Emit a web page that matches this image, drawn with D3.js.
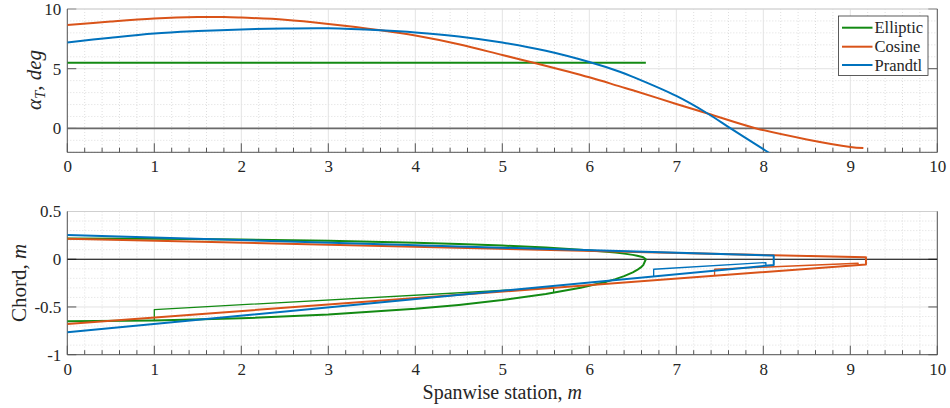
<!DOCTYPE html>
<html><head><meta charset="utf-8">
<script src="https://cdn.jsdelivr.net/npm/d3@7"></script>
<style>
html,body{margin:0;padding:0;background:#fff;}
svg{display:block;font-family:"Liberation Serif","Times New Roman",serif;}
</style></head>
<body>
<svg id="chart" width="950" height="408"></svg>
<script>
// ---------- data ----------
const spanTicks = [0,1,2,3,4,5,6,7,8,9,10];
const alphaTicks = [10,5,0];
const chordTicks = [0.5,0,-0.5,-1];
const seriesNames = ["Elliptic","Cosine","Prandtl"];
const seriesColors = ["#138a13","#D95319","#0072BD"];

// twist angle alpha_T (deg) vs spanwise station (m)
const ellipticX = [0, 6.65];
const ellipticA = [5.5, 5.5];
const cosineX = [0,0.5,1,1.5,1.8,2,2.5,3,3.6,4,4.5,5,5.36,6,6.35,6.5,7,7.36,7.92,8.5,9,9.15];
const cosineA = [8.65,8.95,9.2,9.33,9.33,9.28,9.1,8.75,8.22,7.78,7.05,6.15,5.5,4.28,3.52,3.2,2.05,1.25,0,-0.92,-1.55,-1.65];
const prandtlX = [0,0.5,1,1.5,2,2.5,3,3.6,4,4.5,5,5.5,6,6.35,6.5,7,7.36,7.62,8,8.1];
const prandtlA = [7.19,7.6,7.95,8.15,8.29,8.36,8.38,8.22,8.04,7.7,7.19,6.5,5.56,4.75,4.32,2.72,1.25,0.02,-1.74,-2.2];

// planform: leading edge / trailing edge chord positions (m)
const ellipticSpan = [0,1,2,3,4,4.5,5,5.5,5.9,6.2,6.3,6.4,6.5,6.55,6.6,6.62,6.65];
const ellipticLE   = [0.2165,0.214,0.2065,0.1932,0.173,0.1594,0.1427,0.1217,0.0999,0.0783,0.0693,0.0588,0.0457,0.0374,0.0265,0.0205,0];
const ellipticTE   = [-0.6495,-0.6421,-0.6194,-0.5797,-0.5189,-0.4782,-0.4282,-0.3651,-0.2996,-0.2349,-0.208,-0.1764,-0.1372,-0.1122,-0.0795,-0.0616,0];
const cosineSpan = [0, 9.18];
const cosineLE   = [0.215, 0.02];
const cosineTE   = [-0.678, -0.055];
const prandtlSpan = [0, 8.12];
const prandtlLE   = [0.254, 0.038];
const prandtlTE   = [-0.765, -0.06];
// control surfaces (thin outlines)
const ellipticAilX = [1, 1, 5.59, 5.59];
const ellipticAilY = [-0.642, -0.527, -0.297, -0.353];
const cosineAilX = [7.44, 7.44, 9.09, 9.09];
const cosineAilY = [-0.175, -0.105, -0.042, -0.068];
const prandtlAilX = [6.74, 6.74, 8.03, 8.03];
const prandtlAilY = [-0.18, -0.105, -0.035, -0.07];

// ---------- layout ----------
const svg = d3.select("#chart");
const L = 67.3, R = 937.3;
const x = d3.scaleLinear().domain([0,10]).range([L,R]);
const yTop = d3.scaleLinear().domain([-2,10]).range([152.3,9]);
const yBot = d3.scaleLinear().domain([-1,0.5]).range([354.7,211.5]);

const axisColor = "#262626";
function drawPanel(y, yMajor, yMinorStep, yLabels, id) {
  const g = svg.append("g");
  const [y0, y1] = y.domain();
  const top = y(y1), bot = y(y0);
  const clipId = "clip" + id;
  svg.append("clipPath").attr("id", clipId).append("rect")
    .attr("x", L).attr("y", top).attr("width", R-L).attr("height", bot-top);
  const xMinor = d3.range(0, 10.0001, 0.2).filter(v => Math.abs(v - Math.round(v)) > 1e-6);
  g.selectAll(".xmin").data(xMinor).join("line")
    .attr("x1", d => x(d)).attr("x2", d => x(d)).attr("y1", top).attr("y2", bot)
    .attr("stroke", "#d6d6d6").attr("stroke-width", 0.8).attr("stroke-dasharray", "1,2");
  const yMinor = d3.range(y0, y1 + 1e-9, yMinorStep).filter(v => !yMajor.some(m => Math.abs(m - v) < 1e-6));
  g.selectAll(".ymin").data(yMinor).join("line")
    .attr("x1", L).attr("x2", R).attr("y1", d => y(d)).attr("y2", d => y(d))
    .attr("stroke", "#d6d6d6").attr("stroke-width", 0.8).attr("stroke-dasharray", "1,2");
  g.selectAll(".xmaj").data(spanTicks).join("line")
    .attr("x1", d => x(d)).attr("x2", d => x(d)).attr("y1", top).attr("y2", bot)
    .attr("stroke", "#e3e3e3").attr("stroke-width", 1);
  g.selectAll(".ymaj").data(yMajor).join("line")
    .attr("x1", L).attr("x2", R).attr("y1", d => y(d)).attr("y2", d => y(d))
    .attr("stroke", "#e3e3e3").attr("stroke-width", 1);
  const xAx = d3.axisBottom(x).tickValues(spanTicks).tickSize(0).tickPadding(8).tickFormat(d3.format("d"));
  const gx = svg.append("g").attr("transform", `translate(0,${bot})`).call(xAx);
  gx.select(".domain").remove();
  gx.selectAll("text").attr("font-size", 17).attr("fill", axisColor).attr("font-family", "Liberation Serif");
  const yAx = d3.axisLeft(y).tickValues(yMajor).tickSize(0).tickPadding(6).tickFormat(d => yLabels[yMajor.indexOf(d)]);
  const gy = svg.append("g").attr("transform", `translate(${L},0)`).call(yAx);
  gy.select(".domain").remove();
  gy.selectAll("text").attr("font-size", 17).attr("fill", axisColor).attr("font-family", "Liberation Serif");
  const tk = svg.append("g").attr("stroke", "#555").attr("stroke-width", 1);
  tk.selectAll(".xt").data(spanTicks).join("line")
    .attr("x1", d => x(d)).attr("x2", d => x(d)).attr("y1", bot).attr("y2", bot - 9);
  tk.selectAll(".xmt").data(xMinor).join("line")
    .attr("x1", d => x(d)).attr("x2", d => x(d)).attr("y1", bot).attr("y2", bot - 4.5);
  tk.selectAll(".ytl").data(yMajor).join("line")
    .attr("x1", L).attr("x2", L + 9).attr("y1", d => y(d)).attr("y2", d => y(d));
  tk.selectAll(".ytr").data(yMajor).join("line")
    .attr("x1", R).attr("x2", R - 9).attr("y1", d => y(d)).attr("y2", d => y(d));
  svg.append("line").attr("x1", L).attr("x2", R).attr("y1", top).attr("y2", top).attr("stroke", "#cfcfcf").attr("stroke-width", 1);
  svg.append("line").attr("x1", L).attr("x2", L).attr("y1", top).attr("y2", bot).attr("stroke", "#555").attr("stroke-width", 1);
  svg.append("line").attr("x1", R).attr("x2", R).attr("y1", top).attr("y2", bot).attr("stroke", "#555").attr("stroke-width", 1);
  svg.append("line").attr("x1", L).attr("x2", R).attr("y1", bot).attr("y2", bot).attr("stroke", "#555").attr("stroke-width", 1);
  return clipId;
}

// ---------- top panel ----------
const clipTop = drawPanel(yTop, alphaTicks, 1, ["10","5","0"], "T");
const gTop = svg.append("g").attr("clip-path", `url(#${clipTop})`);
gTop.append("line").attr("x1", L).attr("x2", R).attr("y1", yTop(0)).attr("y2", yTop(0))
  .attr("stroke", "#6a6a6a").attr("stroke-width", 1.8);
const lineT = d3.line().x(d => x(d[0])).y(d => yTop(d[1])).curve(d3.curveCatmullRom.alpha(0.5));
const topSeries = [
  d3.zip(ellipticX, ellipticA),
  d3.zip(cosineX, cosineA),
  d3.zip(prandtlX, prandtlA)
];
topSeries.forEach((s, i) => {
  gTop.append("path").attr("d", lineT(s)).attr("fill", "none")
    .attr("stroke", seriesColors[i]).attr("stroke-width", 2).attr("stroke-linejoin", "round");
});

// ---------- bottom panel ----------
const clipBot = drawPanel(yBot, chordTicks, 0.1, ["0.5","0","-0.5","-1"], "B");
const gBot = svg.append("g").attr("clip-path", `url(#${clipBot})`);
gBot.append("line").attr("x1", L).attr("x2", R).attr("y1", yBot(0)).attr("y2", yBot(0))
  .attr("stroke", "#000").attr("stroke-width", 1.1);
const lineB = d3.line().x(d => x(d[0])).y(d => yBot(d[1]));
function outline(span, le, te) {
  const a = d3.zip(span, le);
  const b = d3.zip(span, te).reverse();
  return a.concat(b);
}
const planforms = [
  outline(ellipticSpan, ellipticLE, ellipticTE),
  outline(cosineSpan, cosineLE, cosineTE),
  outline(prandtlSpan, prandtlLE, prandtlTE)
];
const ailerons = [
  d3.zip(ellipticAilX, ellipticAilY),
  d3.zip(cosineAilX, cosineAilY),
  d3.zip(prandtlAilX, prandtlAilY)
];
[0,1,2].forEach(i => {
  gBot.append("path").attr("d", lineB(planforms[i])).attr("fill", "none")
    .attr("stroke", seriesColors[i]).attr("stroke-width", 2).attr("stroke-linejoin", "round");
  gBot.append("path").attr("d", lineB(ailerons[i])).attr("fill", "none")
    .attr("stroke", seriesColors[i]).attr("stroke-width", 1.3).attr("stroke-linejoin", "round");
});

// ---------- labels ----------
const yl1 = svg.append("text").attr("transform", "translate(41,80) rotate(-90)")
  .attr("text-anchor", "middle").attr("font-size", 21).attr("fill", axisColor);
yl1.append("tspan").attr("font-style", "italic").text("α");
yl1.append("tspan").attr("font-style", "italic").attr("font-size", 15).attr("dy", 4).text("T");
yl1.append("tspan").attr("dy", -4).text(", ");
yl1.append("tspan").attr("font-style", "italic").text("deg");

const yl2 = svg.append("text").attr("transform", "translate(26,283) rotate(-90)")
  .attr("text-anchor", "middle").attr("font-size", 21).attr("fill", axisColor);
yl2.append("tspan").text("Chord, ");
yl2.append("tspan").attr("font-style", "italic").text("m");

const xl = svg.append("text").attr("x", x(5)).attr("y", 399)
  .attr("text-anchor", "middle").attr("font-size", 20).attr("fill", axisColor);
xl.append("tspan").text("Spanwise station, ");
xl.append("tspan").attr("font-style", "italic").text("m");

// ---------- legend ----------
const lg = svg.append("g");
lg.append("rect").attr("x", 838.5).attr("y", 16).attr("width", 89.5).attr("height", 59.5)
  .attr("fill", "#fff").attr("stroke", "#333").attr("stroke-width", 0.8);
const rowY = [27.7, 46.7, 65];
seriesNames.forEach((n, i) => {
  lg.append("line").attr("x1", 842).attr("x2", 872.5).attr("y1", rowY[i]).attr("y2", rowY[i])
    .attr("stroke", seriesColors[i]).attr("stroke-width", 2);
  lg.append("text").attr("x", 874.5).attr("y", rowY[i] + 5.5).attr("font-size", 16.5)
    .attr("fill", axisColor).text(n);
});
</script>
</body></html>
